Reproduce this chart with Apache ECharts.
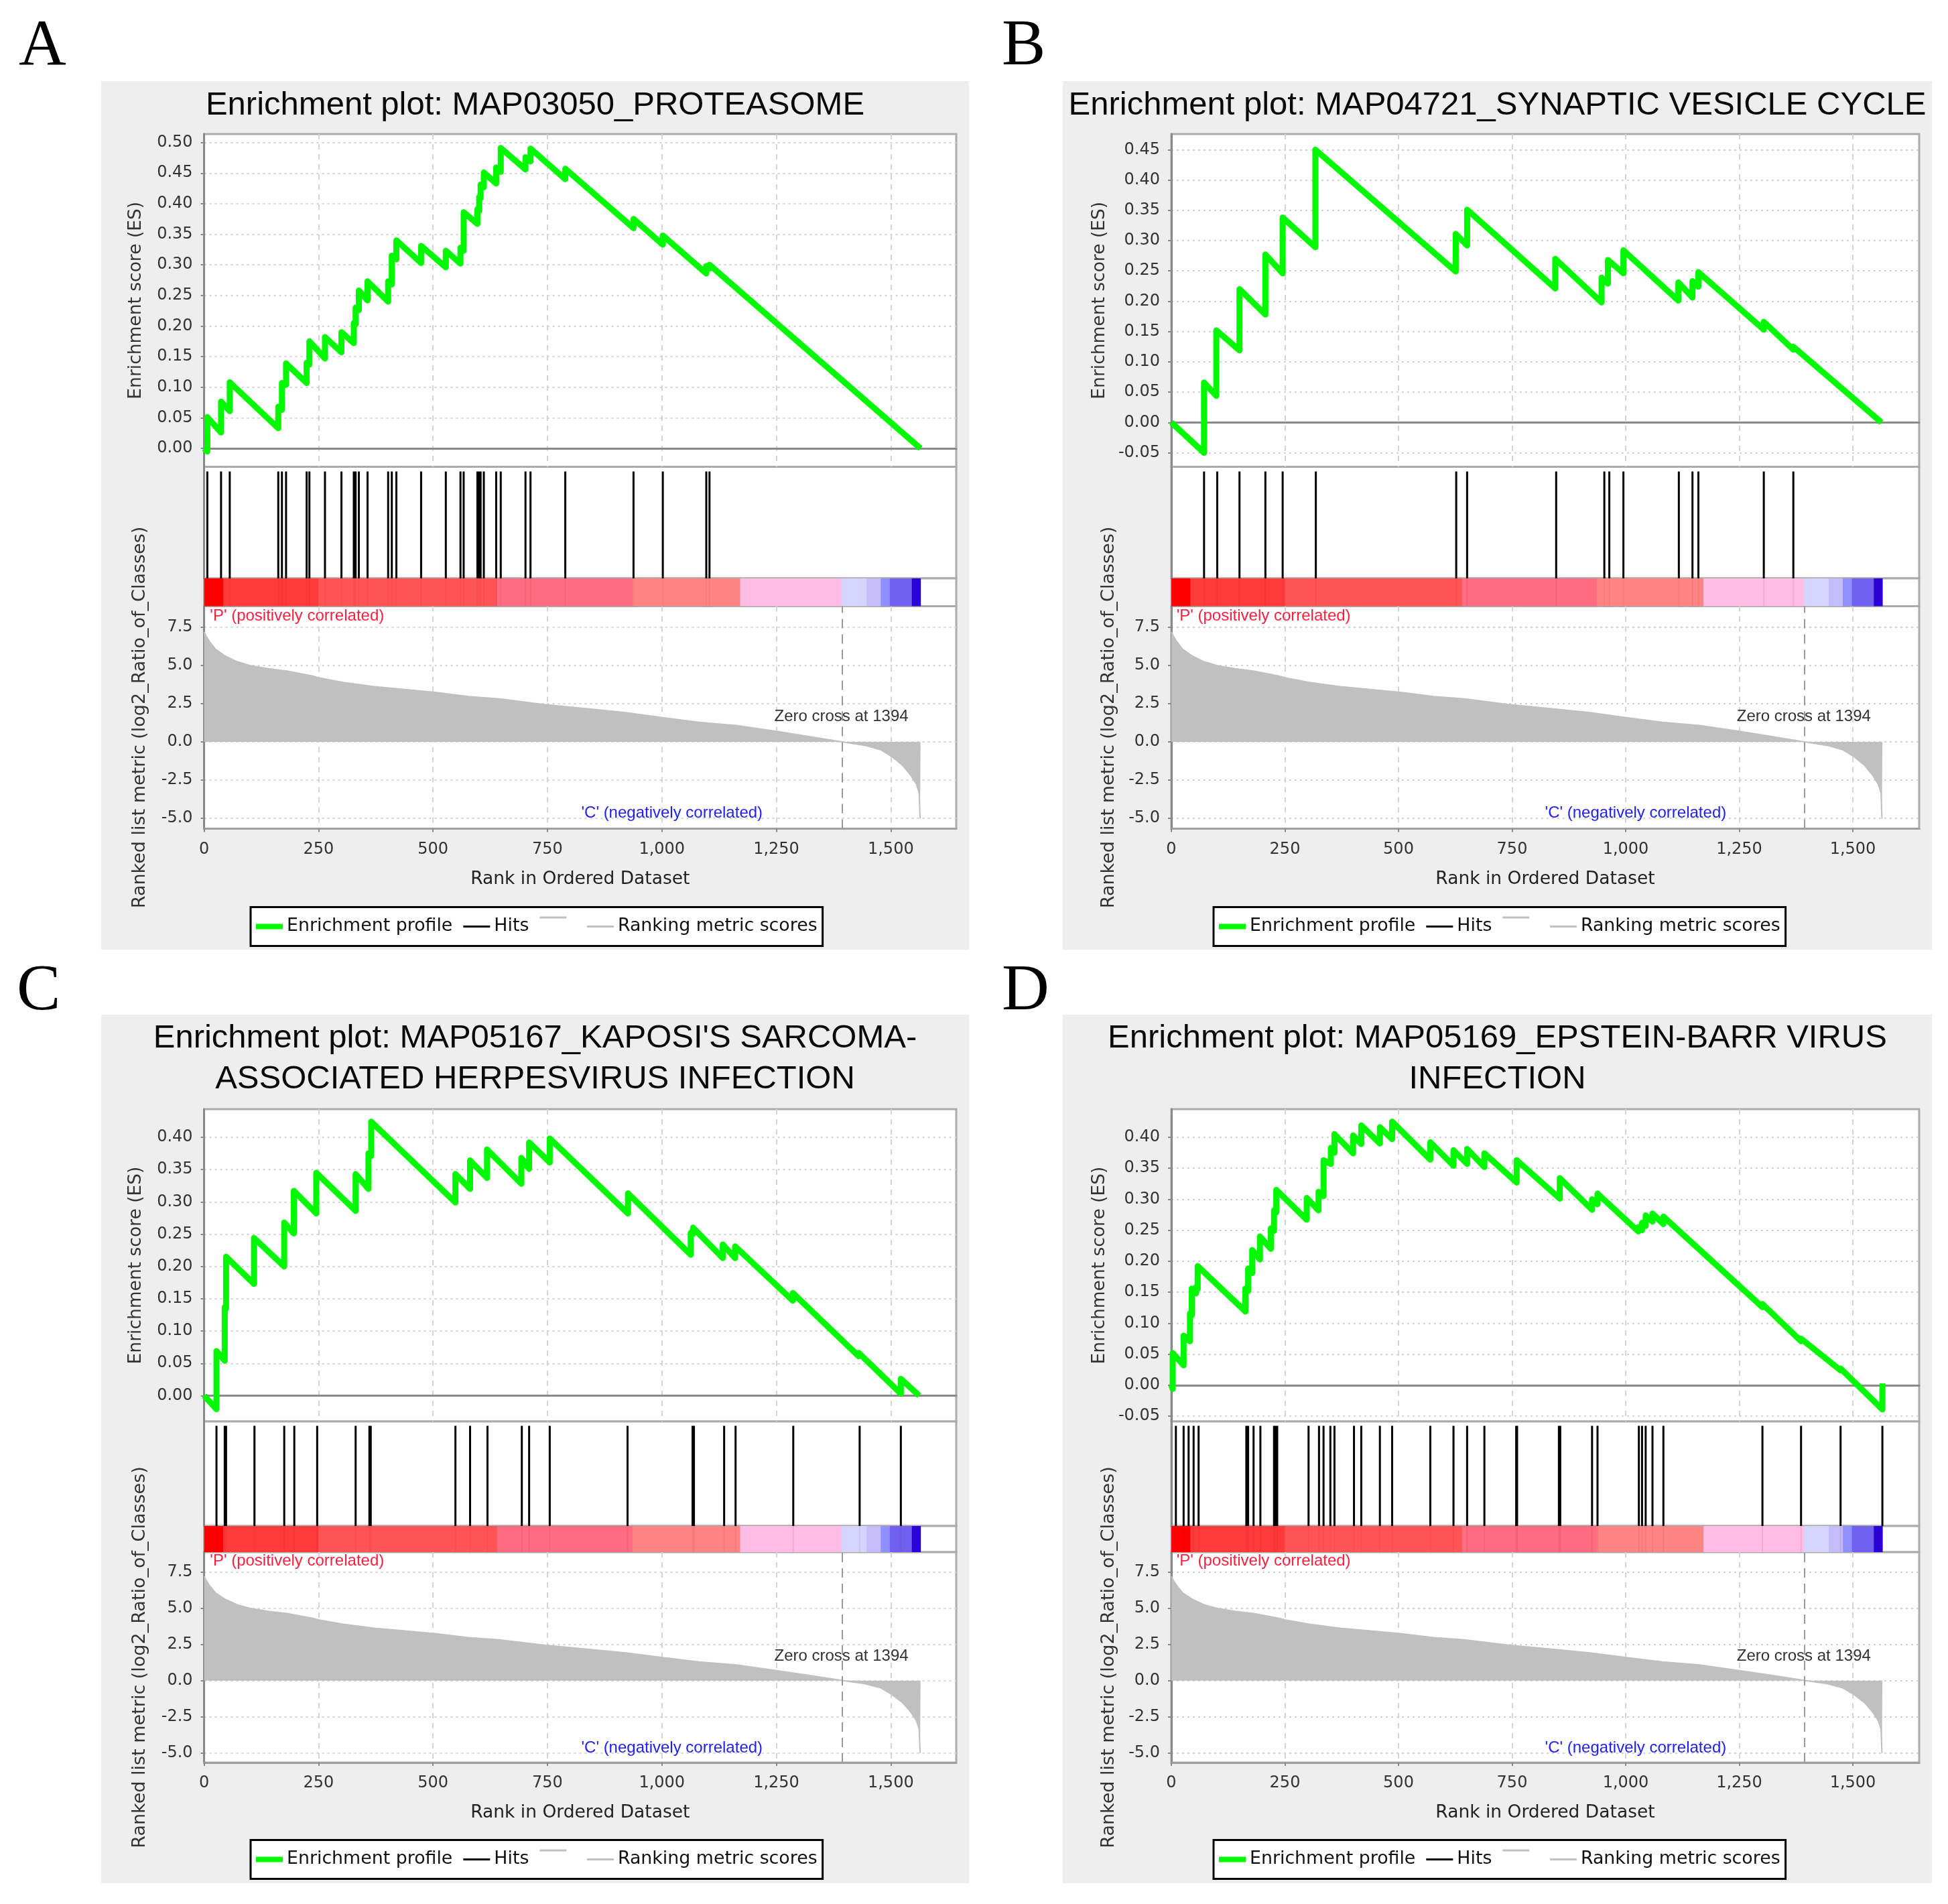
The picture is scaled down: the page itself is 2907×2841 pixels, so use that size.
<!DOCTYPE html>
<html>
<head>
<meta charset="utf-8">
<title>Enrichment plots</title>
<script src="https://cdn.jsdelivr.net/npm/echarts@6/dist/echarts.min.js"></script>
<style>html,body{margin:0;padding:0;background:#fff}#c{width:2907px;height:2841px}</style>
</head>
<body>
<div id="c"></div>
<script>
// ---------- text ----------
const letters = ['A', 'B', 'C', 'D'];
const titles = [
  'Enrichment plot: MAP03050_PROTEASOME',
  'Enrichment plot: MAP04721_SYNAPTIC VESICLE CYCLE',
  "Enrichment plot: MAP05167_KAPOSI'S SARCOMA-\nASSOCIATED HERPESVIRUS INFECTION",
  'Enrichment plot: MAP05169_EPSTEIN-BARR VIRUS\nINFECTION'
];
// ---------- tick labels ----------
const rankTicks = [0, 250, 500, 750, 1000, 1250, 1500];
const metricTicks = [-5, -2.5, 0, 2.5, 5, 7.5];
const esTicksA = [0, .05, .1, .15, .2, .25, .3, .35, .4, .45, .5];
const esTicksB = [-.05, 0, .05, .1, .15, .2, .25, .3, .35, .4, .45];
const esTicksC = [0, .05, .1, .15, .2, .25, .3, .35, .4];
const esTicksD = [-.05, 0, .05, .1, .15, .2, .25, .3, .35, .4];
const esRangeA = [-.0300, .5138];
const esRangeB = [-.0731, .4758];
const esRangeC = [-.0400, .4435];
const esRangeD = [-.0584, .4453];
const metricRange = [-5.67, 8.88];
const zeroCross = 1394;
// ---------- hits ----------
const hitsA = [7,37,56,162,170,179,224,230,264,300,327,331,338,357,402,410,420,474,528,560,567,597,601,604,611,638,648,702,713,789,938,1002,1097,1104];
const hitsB = [72,101,150,207,245,318,627,651,847,953,964,995,1117,1147,1160,1304,1369];
const hitsC = [27,45,48,110,175,197,247,331,361,364,549,581,619,694,710,755,925,1067,1070,1136,1161,1287,1432,1522];
const hitsD = [10,27,38,49,60,165,169,181,196,226,229,233,302,325,335,350,359,402,418,459,486,570,621,651,689,759,761,853,856,926,938,1029,1036,1044,1059,1083,1301,1386,1473,1565];
// ---------- running enrichment score: rank, value before the jump, value after the jump ----------
const esRankA = [7,37,56,162,170,179,224,230,264,300,327,331,338,357,402,410,420,474,528,560,567,597,601,604,611,638,648,702,713,789,938,1002,1097,1104,1565];
const esLowA  = [-.005,.026,.061,.033,.063,.104,.107,.137,.147,.157,.172,.203,.226,.242,.24,.268,.309,.303,.296,.302,.323,.367,.388,.409,.427,.433,.452,.456,.469,.44,.36,.333,.286,.294,0];
const esHighA = [.051,.0765,.108,.068,.107,.139,.14,.175,.182,.19,.205,.23,.258,.273,.273,.315,.34,.331,.323,.328,.386,.391,.411,.431,.451,.459,.491,.476,.49,.457,.375,.348,.298,.30,0];
const esRankB = [72,99,150,207,245,317,626,651,845,947,961,995,1116,1147,1160,1304,1369,1563];
const esLowB  = [-.05,.044,.119,.178,.246,.289,.249,.292,.221,.198,.229,.246,.201,.206,.224,.153,.12,0];
const esHighB = [.066,.152,.22,.277,.338,.45,.311,.351,.27,.239,.268,.284,.231,.233,.248,.166,.125,0];
const esRankC = [27,45,48,109,175,196,245,331,359,365,549,581,618,693,710,755,926,1063,1068,1133,1160,1286,1430,1522,1562];
const esLowC  = [-.021,.054,.135,.173,.2,.251,.282,.286,.32,.371,.299,.32,.337,.328,.351,.361,.282,.218,.25,.213,.213,.147,.061,.003,0];
const esHighC = [.069,.137,.215,.244,.268,.317,.345,.343,.375,.424,.343,.364,.381,.368,.392,.398,.313,.252,.26,.234,.231,.159,.066,.026,0];
const esRankD = [3,27,41,45,54,58,163,169,178,195,219,226,231,298,324,335,351,359,400,418,459,486,570,621,651,689,760,855,926,938,1028,1036,1044,1059,1083,1301,1386,1473,1565];
const esLowD  = [-.006,.032,.071,.113,.148,.155,.119,.152,.181,.203,.22,.249,.279,.267,.282,.305,.357,.375,.374,.389,.39,.397,.364,.354,.357,.352,.327,.301,.283,.292,.248,.25,.257,.264,.26,.126,.071,.024,-.039];
const esHighD = [.052,.08,.116,.156,.158,.192,.156,.188,.218,.24,.253,.282,.315,.302,.312,.363,.383,.405,.403,.419,.416,.425,.392,.379,.381,.374,.363,.334,.3,.309,.255,.262,.274,.277,.272,.131,.075,.027,.003];
// ---------- ranked list metric (same ranked list in all four plots) ----------
const metricRank = [0,4,11,25,45,72,100,140,181,236,250,304,372,427,508,577,645,740,849,918,999,1081,1163,1258,1326,1392,1394,1443,1478,1502,1526,1544,1556,1562,1564,1565];
const metricVal  = [7.2,6.95,6.6,6.06,5.64,5.25,5.0,4.79,4.64,4.32,4.2,3.9,3.62,3.47,3.24,2.97,2.82,2.46,2.14,1.93,1.61,1.29,1.08,.66,.34,.02,0,-.22,-.51,-.95,-1.53,-2.19,-2.77,-3.35,-4.96,-5.0];
// ---------- phenotype colour bar ----------
const heatEdges = [0,42,250,640,936,1171,1392,1447,1478,1498,1546,1565];
const heatColors = ['#ff0000','#ff3a3a','#ff5555','#ff6b80','#ff8585','#ffbce4','#d5d5ff','#c5bcfa','#8f8fff','#7060f0','#2a00d5'];
// ---------- labels ----------
const posLabel = "'P' (positively correlated)";
const negLabel = "'C' (negatively correlated)";
const zeroLabel = 'Zero cross at 1394';
const legendNames = ['Enrichment profile', 'Hits', ' ', 'Ranking metric scores'];
const esAxisName = 'Enrichment score (ES)';
const metricAxisName = 'Ranked list metric (log2_Ratio_of_Classes)';
const rankAxisName = 'Rank in Ordered Dataset';

// ---------- layout ----------
const SANS = 'DejaVu Sans', NARROW = 'Liberation Sans', SERIF = 'Liberation Serif';
const GREEN = '#00f800', GREY = '#c0c0c0';
const panels = [
  {bx:151, by:121, bw:1295, bh:1296, pl:304.6, pr:1427, xMax:1643, es:[200,696.5], hit:[696.5,863], bar:[863,904.5], met:[904.5,1236.5], hits:hitsA, rank:esRankA, lo:esLowA, hi:esHighA, ticks:esTicksA, range:esRangeA, lg:374, gapE:88, gapM:82, titleY:157, letterX:28, letterY:70},
  {bx:1586, by:121, bw:1297, bh:1296, pl:1748, pr:2864, xMax:1646, es:[200,696.5], hit:[696.5,863], bar:[863,904.5], met:[904.5,1236.5], hits:hitsB, rank:esRankB, lo:esLowB, hi:esHighB, ticks:esTicksB, range:esRangeB, lg:1811, gapE:93, gapM:80, titleY:157, letterX:1495, letterY:70},
  {bx:151, by:1514, bw:1295, bh:1296, pl:304.6, pr:1427, xMax:1643, es:[1655,2121], hit:[2121,2277], bar:[2277,2316], met:[2316,2630], hits:hitsC, rank:esRankC, lo:esLowC, hi:esHighC, ticks:esTicksC, range:esRangeC, lg:374, gapE:88, gapM:82, titleY:1580, letterX:25, letterY:1480},
  {bx:1586, by:1514, bw:1297, bh:1296, pl:1748, pr:2864, xMax:1646, es:[1655,2121], hit:[2121,2277], bar:[2277,2316], met:[2316,2630], hits:hitsD, rank:esRankD, lo:esLowD, hi:esHighD, ticks:esTicksD, range:esRangeD, lg:1811, gapE:93, gapM:80, titleY:1580, letterX:1495, letterY:1480}
];
const iconBox = 30;
const iconGreen = 'path://M0 0H40M0 11H40V19H0ZM0 30H40';
const iconBlack = 'path://M0 0H40M0 13.5H40V16.5H0ZM0 30H40';
const iconRaised = 'path://M0 0H40V3H0ZM0 30H40';

const option = {
  animation: false,
  backgroundColor: '#ffffff',
  textStyle: {fontFamily: SANS},
  title: [], grid: [], xAxis: [], yAxis: [], series: [], legend: [],
  graphic: {elements: []}
};

const rankFmt = v => Number(v).toLocaleString('en-US');
const gridV = {show: true, lineStyle: {color: '#d4d4d4', width: 2, type: [8, 7]}};
const gridH = {show: true, lineStyle: {color: '#d4d4d4', width: 2, type: [3, 5]}};

function addGrid(p, yy) {
  option.grid.push({show: true, left: p.pl, width: p.pr - p.pl, top: yy[0], height: yy[1] - yy[0],
    backgroundColor: '#ffffff', borderColor: '#ababab', borderWidth: 3, containLabel: false});
  return option.grid.length - 1;
}
function hitLines(hits) {
  const out = [];
  hits.forEach(r => { out.push([r, 0], [r, 1], [r, null]); });
  return out;
}

panels.forEach((p, i) => {
  option.graphic.elements.push({type: 'rect', z: -10, shape: {x: p.bx, y: p.by, width: p.bw, height: p.bh}, style: {fill: '#eeeeee'}});
  option.title.push({text: letters[i], left: p.letterX, top: p.letterY, padding: 0, textAlign: 'left', textVerticalAlign: 'middle',
    textStyle: {fontFamily: SERIF, fontSize: 98, fontWeight: 'normal', color: '#000'}});
  option.title.push({text: titles[i], left: p.bx + p.bw / 2, top: p.titleY, padding: 0, textAlign: 'center', textVerticalAlign: 'middle',
    textStyle: {fontFamily: NARROW, fontSize: 49, lineHeight: 61, fontWeight: 'normal', color: '#0a0a0a'}});

  // ---- enrichment score
  const gEs = addGrid(p, p.es);
  option.xAxis.push({gridIndex: gEs, type: 'value', min: 0, max: p.xMax, axisLabel: {show: false},
    axisTick: {show: false, customValues: rankTicks}, splitLine: gridV,
    axisLine: {show: true, onZero: true, lineStyle: {color: '#8a8a8a', width: 3}}});
  option.yAxis.push({gridIndex: gEs, type: 'value', min: p.range[0], max: p.range[1], name: esAxisName, nameLocation: 'middle', nameGap: p.gapE,
    nameTextStyle: {fontSize: 26.5, color: '#333'},
    axisLabel: {fontSize: 24, color: '#333', margin: 17, customValues: p.ticks, formatter: v => Number(v).toFixed(2)},
    axisTick: {show: true, length: 5, customValues: p.ticks, lineStyle: {color: '#888', width: 2}},
    axisLine: {show: true, onZero: false, lineStyle: {color: '#8a8a8a', width: 3}}, splitLine: gridH});
  const esData = [[0, 0]];
  p.rank.forEach((r, k) => { esData.push([r, p.lo[k]], [r, p.hi[k]]); });
  option.series.push({type: 'line', name: legendNames[0], xAxisIndex: gEs, yAxisIndex: gEs, data: esData, symbol: 'none', z: 5,
    lineStyle: {color: GREEN, width: 9, join: 'round'}, itemStyle: {color: GREEN}});

  // ---- hits
  const gHit = addGrid(p, p.hit);
  option.xAxis.push({gridIndex: gHit, type: 'value', min: 0, max: p.xMax, axisLabel: {show: false}, axisTick: {show: false}, axisLine: {show: false}, splitLine: {show: false}});
  option.yAxis.push({gridIndex: gHit, type: 'value', min: 0, max: 1.044, axisLabel: {show: false}, axisTick: {show: false}, axisLine: {show: true, lineStyle: {color: '#8a8a8a', width: 3}}, splitLine: {show: false}});
  option.series.push({type: 'line', name: legendNames[1], xAxisIndex: gHit, yAxisIndex: gHit, data: hitLines(p.hits), symbol: 'none', connectNulls: false,
    lineStyle: {color: '#000', width: 3}, itemStyle: {color: '#000'}});

  // ---- colour bar
  const gBar = addGrid(p, p.bar);
  option.xAxis.push({gridIndex: gBar, type: 'value', min: 0, max: p.xMax, axisLabel: {show: false}, axisTick: {show: false}, axisLine: {show: false}, splitLine: {show: false}});
  option.yAxis.push({gridIndex: gBar, type: 'value', min: 0, max: 1, axisLabel: {show: false}, axisTick: {show: false}, axisLine: {show: false}, splitLine: {show: false}});
  option.series.push({type: 'custom', name: 'Phenotype bar', xAxisIndex: gBar, yAxisIndex: gBar,
    data: heatColors.map((c, k) => [heatEdges[k], heatEdges[k + 1], k]),
    encode: {x: [0, 1]},
    renderItem: (params, api) => {
      const a = api.coord([api.value(0), 1]), b = api.coord([api.value(1), 0]);
      return {type: 'rect', shape: {x: a[0], y: a[1], width: b[0] - a[0] + .5, height: b[1] - a[1]}, style: {fill: heatColors[api.value(2)]}};
    }});
  option.series.push({type: 'line', name: 'Hit stripes', xAxisIndex: gBar, yAxisIndex: gBar, data: hitLines(p.hits), symbol: 'none', connectNulls: false, z: 3,
    lineStyle: {color: 'rgba(170,0,30,0.09)', width: 2}});

  // ---- ranked metric
  const gMet = addGrid(p, p.met);
  option.xAxis.push({gridIndex: gMet, type: 'value', min: 0, max: p.xMax, name: rankAxisName, nameLocation: 'middle', nameGap: 62,
    nameTextStyle: {fontSize: 26.5, color: '#222'},
    axisLabel: {fontSize: 24, color: '#333', margin: 19, customValues: rankTicks, formatter: rankFmt},
    axisTick: {show: true, length: 5, customValues: rankTicks, lineStyle: {color: '#888', width: 2}},
    axisLine: {show: true, onZero: false, lineStyle: {color: '#a0a0a0', width: 3}}, splitLine: gridV});
  option.yAxis.push({gridIndex: gMet, type: 'value', min: metricRange[0], max: metricRange[1], name: metricAxisName, nameLocation: 'middle', nameGap: p.gapM,
    nameTextStyle: {fontSize: 27, color: '#333'},
    axisLabel: {fontSize: 24, color: '#333', margin: 17, customValues: metricTicks, formatter: v => Number(v).toFixed(1)},
    axisTick: {show: true, length: 5, customValues: metricTicks, lineStyle: {color: '#888', width: 2}},
    axisLine: {show: true, onZero: false, lineStyle: {color: '#8a8a8a', width: 3}}, splitLine: gridH});
  const annot = (x, y, text, color) => ({coord: [x, y], symbol: 'circle', symbolSize: 0,
    label: {show: true, position: 'inside', formatter: text, color: color, fontFamily: NARROW, fontSize: 24}});
  option.series.push({type: 'line', name: legendNames[3], xAxisIndex: gMet, yAxisIndex: gMet, data: metricRank.map((r, k) => [r, metricVal[k]]), symbol: 'none',
    lineStyle: {color: GREY, width: 2}, itemStyle: {color: GREY}, areaStyle: {color: GREY, opacity: 1, origin: 0},
    markLine: {silent: true, symbol: 'none', label: {show: false}, lineStyle: {color: '#999', width: 2, type: [14, 9]}, data: [{xAxis: zeroCross}]},
    markPoint: {silent: true, data: [
      annot(203, 8.25, posLabel, '#ff2040'),
      annot(1022, -4.65, negLabel, '#2020ff'),
      annot(1392, 1.66, zeroLabel, '#333')
    ]}});

  // ---- legend
  option.legend.push({left: p.lg, top: p.met[1] + (i < 2 ? 117 : 115.5), orient: 'horizontal', selectedMode: false,
    backgroundColor: '#fff', borderColor: '#000', borderWidth: 3, padding: [14, 8, 14, 8], itemGap: 16,
    itemWidth: 42, itemHeight: iconBox, textStyle: {fontSize: 26.8, color: '#111'},
    data: [
      {name: legendNames[0], icon: iconGreen, itemStyle: {color: GREEN}},
      {name: legendNames[1], icon: iconBlack, itemStyle: {color: '#000'}},
      {name: legendNames[2], icon: iconRaised, itemStyle: {color: GREY}},
      {name: legendNames[3], icon: iconBlack, itemStyle: {color: GREY}}
    ]});
  if (i === 0) option.series.push({type: 'line', name: legendNames[2], xAxisIndex: gMet, yAxisIndex: gMet, data: [], symbol: 'none', lineStyle: {color: GREY}});
});

const chart = echarts.init(document.getElementById('c'), null, {renderer: 'canvas', width: 2907, height: 2841});
chart.setOption(option);
</script>
</body>
</html>
